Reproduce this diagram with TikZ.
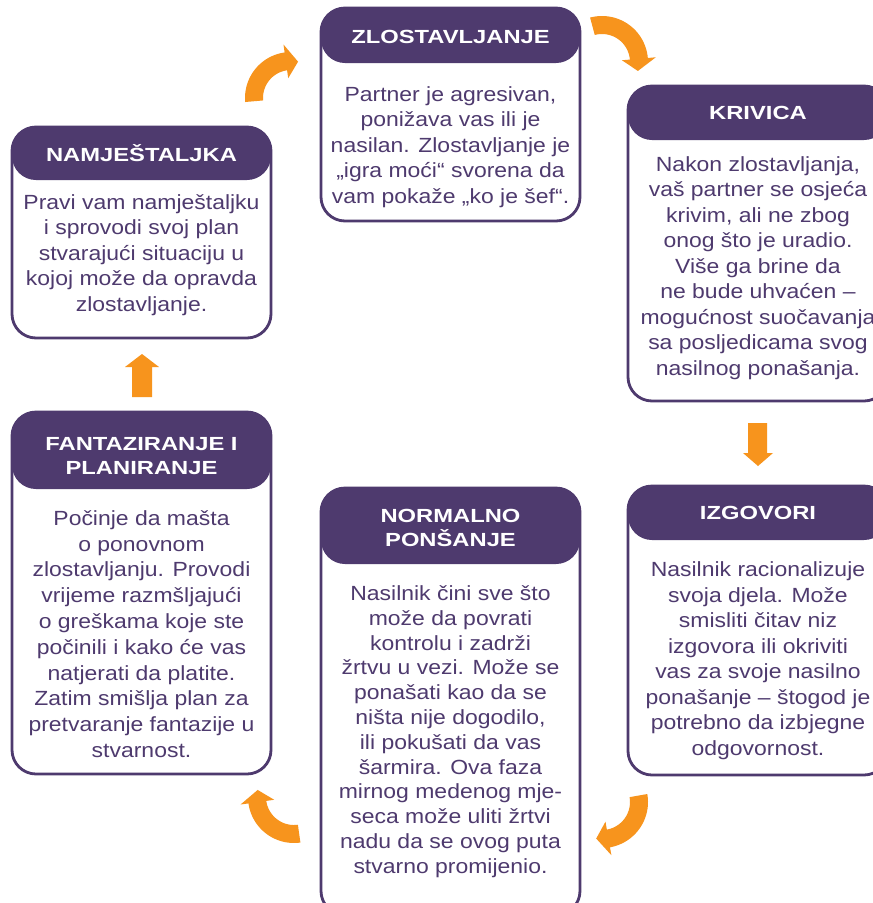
\documentclass[tikz,border=0pt]{standalone}
\usepackage{fontspec}
\setmainfont{Liberation Sans}[FakeStretch=1.12]
\newfontfamily\hdfont{Liberation Sans}[FakeStretch=1.25]
\definecolor{pur}{HTML}{4E3A6E}
\definecolor{org}{HTML}{F7941D}
\tikzset{
  phase/.style={draw=pur, line width=2.8pt, fill=white, rounded corners=24pt, inner sep=0pt},
  hdr/.style={path picture={\fill[pur] (path picture bounding box.north west) rectangle ([yshift=-#1]path picture bounding box.north east);}},
  hdtext/.style={text=white, font=\hdfont\bfseries\fontsize{19}{24}\selectfont, align=center, inner sep=0pt},
  bodytext/.style={text=pur, font=\fontsize{20.5}{25.5}\selectfont, align=center, inner sep=0pt},
  arrowfill/.style={fill=org},
}
% curved block arrow: cx, cy, R, r, start angle, end angle, direction (+1/-1)
\newcommand\curvedarrow[7]{%
  \fill[arrowfill] plot[domain=#5:#6, samples=30] ({#1+#3*cos(\x)},{#2+#3*sin(\x)})
    -- ({#1+(#3+8)*cos(#6)},{#2+(#3+8)*sin(#6)})
    -- ({#1+((#3+#4)/2)*cos(#6+#7*19)},{#2+((#3+#4)/2)*sin(#6+#7*19)})
    -- ({#1+(#4-8)*cos(#6)},{#2+(#4-8)*sin(#6)})
    -- plot[domain=#6:#5, samples=30] ({#1+#4*cos(\x)},{#2+#4*sin(\x)})
    -- cycle;}
\begin{document}
\begin{tikzpicture}[x=1pt,y=-1pt]
\useasboundingbox (0,0) rectangle (873,903);
\clip (0,0) rectangle (873,903);
\fill[white] (0,0) rectangle (873,903);

% boxes
\node[phase, hdr=53pt, minimum width=259pt, minimum height=211pt] (namj) at (141.5,232.5) {};
\node[phase, hdr=55pt, minimum width=259pt, minimum height=213pt] (zlos) at (450.5,114.5) {};
\node[phase, hdr=54pt, minimum width=260pt, minimum height=315pt] (kriv) at (758,243.5) {};
\node[phase, hdr=54pt, minimum width=260pt, minimum height=289pt] (izgo) at (758,630.5) {};
\node[phase, hdr=76pt, minimum width=259pt, minimum height=427pt] (norm) at (450.5,701.5) {};
\node[phase, hdr=77pt, minimum width=259pt, minimum height=362pt] (fant) at (141.5,593) {};

% headers
\node[hdtext] (namjh) at (141.5,153.5) {NAMJEŠTALJKA};
\node[hdtext] (zlosh) at (450.5,36.5) {ZLOSTAVLJANJE};
\node[hdtext] (krivh) at (758,113) {KRIVICA};
\node[hdtext] (izgoh) at (758,513) {IZGOVORI};
\node[hdtext] (normh) at (450.5,527.5) {NORMALNO\\PONŠANJE};
\node[hdtext] (fanth) at (141.5,456.5) {FANTAZIRANJE I\\PLANIRANJE};

% body texts
\node[bodytext] (namjb) at (141.5,255) {Pravi vam namještaljku\\i sprovodi svoj plan\\stvarajući situaciju u\\kojoj može da opravda\\zlostavljanje.};
\node[bodytext] (zlosb) at (450.5,147) {Partner je agresivan,\\ponižava vas ili je\\nasilan. Zlostavljanje je\\„igra moći“ svorena da\\vam pokaže „ko je šef“.};
\node[bodytext] (krivb) at (758,268) {Nakon zlostavljanja,\\vaš partner se osjeća\\krivim, ali ne zbog\\onog što je uradio.\\Više ga brine da\\ne bude uhvaćen –\\mogućnost suočavanja\\sa posljedicama svog\\nasilnog ponašanja.};
\node[bodytext] (izgob) at (758,660.5) {Nasilnik racionalizuje\\svoja djela. Može\\smisliti čitav niz\\izgovora ili okriviti\\vas za svoje nasilno\\ponašanje – štogod je\\potrebno da izbjegne\\odgovornost.};
\node[bodytext, font=\fontsize{20.5}{24.8}\selectfont] (normb) at (450.5,731.5) {Nasilnik čini sve što\\može da povrati\\kontrolu i zadrži\\žrtvu u vezi. Može se\\ponašati kao da se\\ništa nije dogodilo,\\ili pokušati da vas\\šarmira. Ova faza\\mirnog medenog mje-\\seca može uliti žrtvi\\nadu da se ovog puta\\stvarno promijenio.};
\node[bodytext, font=\fontsize{20.5}{25.8}\selectfont] (fantb) at (141.5,634) {Počinje da mašta\\o ponovnom\\zlostavljanju. Provodi\\vrijeme razmšljajući\\o greškama koje ste\\počinili i kako će vas\\natjerati da platite.\\Zatim smišlja plan za\\pretvaranje fantazije u\\stvarnost.};

% arrows
\curvedarrow{291}{98}{46}{28}{175}{262}{1}
\curvedarrow{602}{62}{46}{28}{255}{355}{1}
\fill[arrowfill] (748,423) -- (767,423) -- (767,453) -- (773,453) -- (758,466) -- (743,453) -- (748,453) -- cycle;
\curvedarrow{602}{802}{46}{28}{-10}{80}{1}
\curvedarrow{294}{797}{46}{28}{82}{172}{1}
\fill[arrowfill] (132,397) -- (152,397) -- (152,367) -- (159,367) -- (142,354) -- (125,367) -- (132,367) -- cycle;
\end{tikzpicture}
\end{document}
